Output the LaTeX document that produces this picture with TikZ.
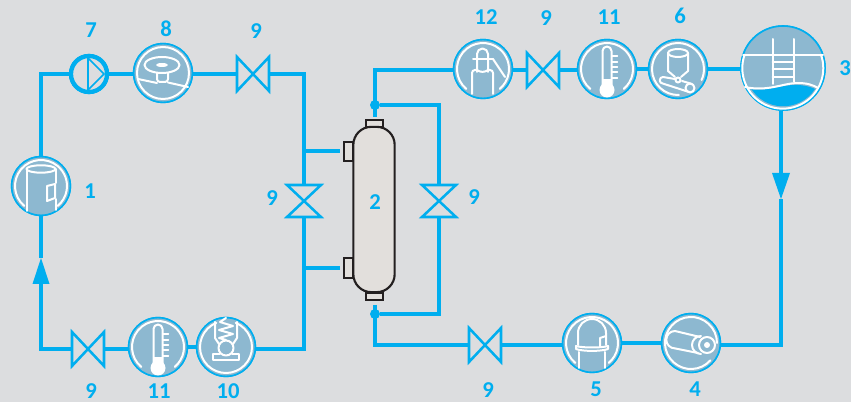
\documentclass[tikz,border=0pt]{standalone}
\usepackage{fontspec}
\setmainfont{Carlito}
\definecolor{bgc}{HTML}{DCDDDF}
\definecolor{pipec}{HTML}{00AEEF}
\definecolor{iconc}{HTML}{8DB8D0}
\definecolor{vesc}{HTML}{E2DFDC}
\definecolor{darkc}{HTML}{231F20}
\tikzset{
  pipe/.style={draw=pipec,line width=3.7pt,line join=miter},
  unit/.style={circle,draw=pipec,fill=iconc,line width=1.2pt,inner sep=0pt,minimum size=44pt},
  bigunit/.style={unit,minimum size=63pt},
  pumpunit/.style={circle,draw=pipec,fill=bgc,line width=3.2pt,inner sep=0pt,minimum size=27pt},
  valvebox/.style={inner sep=0pt,minimum size=24.5pt,draw=none},
  valveline/.style={draw=pipec,line width=1.9pt,line join=miter},
  wl/.style={draw=white,line width=1.5pt,line cap=round,line join=round},
  lab/.style={text=pipec,font=\fontsize{17}{17}\selectfont\bfseries,inner sep=0pt},
  tip/.style={fill=pipec,draw=none},
  vessel/.style={draw=darkc,fill=vesc,line width=1.6pt},
  pipedot/.style={circle,fill=pipec,inner sep=0pt,minimum size=7.5pt}
}
\newcommand{\ringarc}[2]{\draw[wl] (#1:26) arc[start angle=#1,end angle=#2,radius=26];}
\newcommand{\vh}{\draw[valveline] (-16,-17)--(16,17)--(16,-17)--(-16,17)--cycle;}
\newcommand{\vv}{\draw[valveline] (-17,-16)--(17,-16)--(-17,16)--(17,16)--cycle;}
\newcommand{\thermo}{%
  \ringarc{130}{410}
  \draw[wl] (-4.5,17) -- (-4.5,-18) arc[start angle=180,end angle=360,radius=4.5] -- (4.5,17);
  \fill[white] (-4.5,10) rectangle (4.5,17);
  \fill[white] (0,21) circle[radius=7.5];
  \foreach \yy in {-13,-7,-2,3,9} \draw[wl,line width=1pt] (5,\yy) -- (10.5,\yy);
}
\begin{document}
\begin{tikzpicture}[x=0.75pt,y=-0.75pt]
\path[fill=bgc,use as bounding box] (0,0) rectangle (851,402);

% free corners
\coordinate (c1) at (41,74);
\coordinate (c2) at (304,74);
\coordinate (c3) at (304,349);
\coordinate (c4) at (41,349);
\coordinate (c5) at (375,70);
\coordinate (c6) at (439,105);
\coordinate (c7) at (439,314);
\coordinate (c8) at (375,345);
\coordinate (c9) at (781,345);
\coordinate (b1) at (304,151);
\coordinate (b2) at (304,268);
\coordinate (n1) at (340,151);
\coordinate (n2) at (340,268);
\coordinate (n3) at (375,117);
\coordinate (n4) at (375,305);
\coordinate (t1) at (41,258);
\coordinate (t2) at (41,283);
\coordinate (t3) at (781,173);
\coordinate (t4) at (781,199);
\node[pipedot] (d1) at (375,105) {};
\node[pipedot] (d2) at (375,314) {};

% node anchors for the connectors
\node[unit] (u1) at (41,186) {};
\node[pumpunit] (u7) at (89,74) {};
\node[unit] (u8) at (163,73) {};
\node[unit] (u12) at (483,69) {};
\node[unit] (u11a) at (607,69) {};
\node[unit] (u6) at (678,69) {};
\node[bigunit] (u3) at (783,68) {};
\node[unit] (u5) at (592,343) {};
\node[unit] (u4) at (691,343) {};
\node[unit] (u11b) at (158,347) {};
\node[unit] (u10) at (226,347) {};
\node[valvebox] (v1) at (253,74) {};
\node[valvebox] (v2) at (304,201) {};
\node[valvebox] (v3) at (439,201) {};
\node[valvebox] (v4) at (543,70) {};
\node[valvebox] (v5) at (485,345) {};
\node[valvebox] (v6) at (88,349) {};

\draw[pipe] (u1.north) |- (u7.west);
\draw[pipe] (u7.east) -- (u8.west |- u7.east);
\draw[pipe] (u8.east |- v1.west) -- (v1.west);
\draw[pipe] (v1.east) -- (c2) -- (v2.north);
\draw[pipe] (v2.south) -- (c3) -- (u10.east |- c3);
\draw[pipe] (b1) -- (n1);
\draw[pipe] (b2) -- (n2);
\draw[pipe] (n3) -- (c5) -- (u12.west |- c5);
\draw[pipe] (d1) -- (c6) -- (v3.north);
\draw[pipe] (v3.south) -- (c7) -- (d2);
\draw[pipe] (n4) -- (c8) -- (v5.west);
\draw[pipe] (v5.east) -- (u5.west |- v5.east);
\draw[pipe] (u5.east) -- (u4.west);
\draw[pipe] (u4.east |- c9) -- (c9) -- (t4);
\draw[pipe] (u3.south -| t3) -- (t3);
\draw[pipe] (u12.east |- v4.west) -- (v4.west);
\draw[pipe] (v4.east) -- (u11a.west |- v4.east);
\draw[pipe] (u11a.east) -- (u6.west);
\draw[pipe] (u6.east) -- (u3.west |- u6.east);
\draw[pipe] (u1.south) -- (t1);
\draw[pipe] (t2) -- (c4) -- (v6.west);
\draw[pipe] (v6.east) -- (u11b.west |- v6.east);
\draw[pipe] (u11b.east) -- (u10.west);
\fill[tip] (t1) -- (32.5,284) -- (49.5,284) -- cycle;
\fill[tip] (t4) -- (772,173) -- (790,173) -- cycle;

% redraw units on top
\node[unit] at (u1) {};
\node[pumpunit] at (u7) {};
\node[unit] at (u8) {};
\node[unit] at (u12) {};
\node[unit] at (u11a) {};
\node[unit] at (u6) {};
\node[bigunit] at (u3) {};
\node[unit] at (u5) {};
\node[unit] at (u4) {};
\node[unit] at (u11b) {};
\node[unit] at (u10) {};

% valves
\begin{scope}[shift={(v1.center)}]\vh\end{scope}
\begin{scope}[shift={(v4.center)}]\vh\end{scope}
\begin{scope}[shift={(v5.center)}]\vh\end{scope}
\begin{scope}[shift={(v6.center)}]\vh\end{scope}
\begin{scope}[shift={(v2.center)}]\vv\end{scope}
\begin{scope}[shift={(v3.center)}]\vv\end{scope}

% vessel
\draw[vessel] (344,142) rectangle (353,161);
\draw[vessel] (344,258) rectangle (353,278);
\draw[vessel] (366,120) rectangle (383,127);
\draw[vessel] (366,293) rectangle (383,300);
\node[vessel,draw,rectangle,rounded corners=13.5pt,minimum width=31pt,minimum height=124pt,inner sep=0pt] (u2) at (374,209.5) {};

% pump symbol
\begin{scope}[shift={(u7.center)}]
  \draw[valveline,line width=1.2pt] (-1,-16) -- (-1,16) -- (15,0) -- cycle;
\end{scope}

% icon 1
\begin{scope}[shift={(u1.center)}]
  \ringarc{130}{410}
  \draw[wl] (-14.5,25) -- (-14.5,-17) (14.5,-17) -- (14.5,-3) (14.5,13) -- (14.5,24);
  \draw[wl] (0,-17) ellipse[x radius=14.5,y radius=3.7];
  \draw[wl] (6,0) -- (14,-2) -- (14,12) -- (6,15) -- cycle;
\end{scope}

% icon 8
\begin{scope}[shift={(u8.center)}]
  \ringarc{0}{360}
  \draw[wl] (-1,-8) ellipse[x radius=17.5,y radius=8];
  \fill[white] (-1,-8) ellipse[x radius=6,y radius=2];
  \draw[wl] (-6,0) -- (-6,6) arc[start angle=180,end angle=90,radius=3] -- (2,9) arc[start angle=90,end angle=0,radius=3] -- (5,0);
  \draw[wl] (-25,6) -- (-6,10) (5,9.5) -- (25,14);
\end{scope}

% icon 12
\begin{scope}[shift={(u12.center)}]
  \ringarc{130}{410}
  \draw[wl] (-6,3) -- (-6,-15) arc[start angle=180,end angle=360,radius=5.5] -- (5,3);
  \draw[wl] (-10,-10) -- (10,-10);
  \draw[wl] (10,-10) -- (22,8);
  \draw[wl] (-11,25) -- (-11,4) arc[start angle=180,end angle=270,radius=3] -- (-6,1) .. controls (-3,3.5) and (2,3.5) .. (5,1) -- (7,1) arc[start angle=270,end angle=360,radius=3] -- (10,25);
\end{scope}

% icon 11 (top)
\begin{scope}[shift={(u11a.center)}]\thermo\end{scope}

% icon 6
\begin{scope}[shift={(u6.center)}]
  \ringarc{88}{385}
  \draw[wl] (0,-16) ellipse[x radius=10,y radius=4];
  \draw[wl] (-10,-16) -- (-10,2) -- (-3,8) (10,-16) -- (10,2) -- (3,8);
  \draw[wl] (0,11) circle[radius=2.5];
  \draw[wl] (-15,8) -- (-3,10) (4,12) -- (14,15);
  \draw[wl] (-15,8) arc[start angle=270,end angle=90,radius=3.3] -- (11,23);
  \draw[wl] (12,19) circle[radius=4.5];
\end{scope}

% icon 3
\begin{scope}[shift={(u3.center)}]
  \fill[pipec] (-33,21) .. controls (-15,24) and (0,16) .. (15,17) .. controls (23,17.5) and (28,19) .. (32,21) arc[start angle=33,end angle=147,radius=38] -- cycle;
  \draw[wl] (-40,-13) -- (40,-13);
  \draw[wl] (-38.5,-13) arc[start angle=199,end angle=-19,radius=40.5];
  \draw[wl] (-38,19) .. controls (-15,24) and (0,15) .. (15,15) .. controls (24,15) and (30,17) .. (35,20);
  \draw[wl] (-10.5,-29) -- (-10.5,16) (10.5,-29) -- (10.5,14);
  \draw[wl] (-10.5,-6) -- (10.5,-6) (-10.5,1) -- (10.5,1) (-10.5,9) -- (10.5,9);
\end{scope}

% icon 5
\begin{scope}[shift={(u5.center)}]
  \ringarc{130}{410}
  \draw[wl] (-14,2) -- (-14,-10) arc[start angle=180,end angle=360,radius=14] -- (14,2);
  \draw[wl] (-16,3) .. controls (-10,5) and (10,5) .. (16,3) -- (16,6) .. controls (10,8.5) and (-10,8.5) .. (-16,6) -- cycle;
  \draw[wl] (-13,9) -- (-13,25) (13,9) -- (13,25);
  \draw[wl] (8,3) -- (8,-5) -- (14,-7);
\end{scope}

% icon 4
\begin{scope}[shift={(u4.center)}]
  \ringarc{42}{360}
  \draw[wl] (9,-6) -- (-16,-12) arc[start angle=270,end angle=90,radius=8.7] -- (7,10);
  \draw[wl] (10,-7) arc[start angle=270,end angle=90,radius=9];
  \draw[wl] (16,2) circle[radius=8];
  \fill[white] (16,2) circle[radius=3];
\end{scope}

% icon 11 (bottom)
\begin{scope}[shift={(u11b.center)}]\thermo\end{scope}

% icon 10
\begin{scope}[shift={(u10.center)}]
  \ringarc{-68}{248}
  \draw[wl] (0,-29) -- (-6,-25) -- (7,-21) -- (-7,-17) -- (7,-13) -- (-7,-9) -- (0,-7);
  \draw[wl] (0,1) circle[radius=7.5];
  \draw[wl] (-11,-25) -- (-11,-9) -- (-7,-3);
  \draw[wl] (11,-25) -- (11,-9) -- (7,-3);
  \draw[wl] (-6,7) -- (-13,7) -- (-13,13) -- (13,13) -- (13,7) -- (6,7);
\end{scope}

% labels
\node[lab] (l1) at (90,191) {1};
\node[lab] (l2) at (375,202) {2};
\node[lab] (l3) at (845,68) {3};
\node[lab] (l4) at (695,389) {4};
\node[lab] (l5) at (596,389) {5};
\node[lab] (l6) at (680,16) {6};
\node[lab] (l7) at (91,30) {7};
\node[lab] (l8) at (166,29) {8};
\node[lab] (l9a) at (256,31) {9};
\node[lab] (l9b) at (272,198) {9};
\node[lab] (l9c) at (474,197) {9};
\node[lab] (l9d) at (546,18) {9};
\node[lab] (l9e) at (91,391) {9};
\node[lab] (l9f) at (488,390) {9};
\node[lab] (l10) at (228,391) {10};
\node[lab] (l11a) at (609,17) {11};
\node[lab] (l11b) at (159,391) {11};
\node[lab] (l12) at (486,17) {12};
\end{tikzpicture}
\end{document}
